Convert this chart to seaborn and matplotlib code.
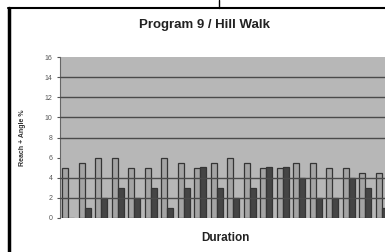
import matplotlib
matplotlib.use("Agg")
import matplotlib.pyplot as plt
import seaborn as sns
import pandas as pd
from matplotlib.lines import Line2D

# Data
groups = list(range(1, 21))
reach = [5, 5.5, 6, 6, 5, 5, 6, 5.5, 5, 5.5, 6, 5.5, 5, 5, 5.5, 5.5, 5, 5, 4.5, 4.5]
angle = [0, 1, 2, 3, 2, 3, 1, 3, 5.1, 3, 2, 3, 5.1, 5.1, 4, 2, 2, 4, 3, 1]
series_names = ["Reach", "Angle"]
yticks = [0, 2, 4, 6, 8, 10, 12, 14, 16]
grid_levels = [2, 4, 8, 10, 12, 14]

df = pd.DataFrame({
    "Duration": groups * 2,
    "value": reach + angle,
    "series": [series_names[0]] * len(groups) + [series_names[1]] * len(groups),
})

sns.set_style("white")
plt.rcParams["font.family"] = ["Liberation Sans", "DejaVu Sans"]

fig = plt.figure(figsize=(3.85, 2.52), dpi=100)
fig.patch.set_facecolor("white")
ax = fig.add_axes([60 / 385, 34 / 252, 330 / 385, 161 / 252])

sns.barplot(data=df, x="Duration", y="value", hue="series",
            palette={"Reach": "#a4a4a4", "Angle": "#454545"},
            width=0.72, dodge=True, ax=ax, legend=False,
            edgecolor="#353535", linewidth=0.9, zorder=2)

ax.set_facecolor("#b7b7b7")
ax.set_ylim(0, 16)
ax.set_xlim(-0.5, 19.5)
ax.set_yticks(yticks)
ax.set_yticklabels([str(t) for t in yticks], fontsize=5, color="#555555")
ax.set_xticks([])
for lv in grid_levels:
    ax.axhline(lv, color="#4a4a4a", linewidth=1.0, zorder=3)

for s in ["top", "right", "bottom"]:
    ax.spines[s].set_visible(False)
ax.spines["left"].set_color("#666666")
ax.spines["left"].set_linewidth(0.8)
ax.tick_params(axis="y", length=2.5, width=0.8, color="#555555", pad=3, left=True)

ax.set_ylabel("Reach + Angle %", fontsize=5, fontweight="bold", color="#333333", labelpad=13)
ax.set_xlabel("Duration", fontsize=8.5, fontweight="bold", color="#222222", labelpad=10)

fig.text(205 / 385, 1 - 25 / 252, "Program 9 / Hill Walk", ha="center", va="center",
         fontsize=9.5, fontweight="bold", color="#222222")

# frame of the screenshot
fig.add_artist(Line2D([9 / 385, 9 / 385], [0, 1 - 8 / 252], color="black", linewidth=2.5,
                      transform=fig.transFigure))
fig.add_artist(Line2D([8 / 385, 1], [1 - 8 / 252, 1 - 8 / 252], color="black", linewidth=1.5,
                      transform=fig.transFigure))
fig.add_artist(Line2D([219 / 385, 219 / 385], [1 - 8 / 252, 1], color="black", linewidth=1.0,
                      transform=fig.transFigure))

fig.savefig("out.png", dpi=100)
